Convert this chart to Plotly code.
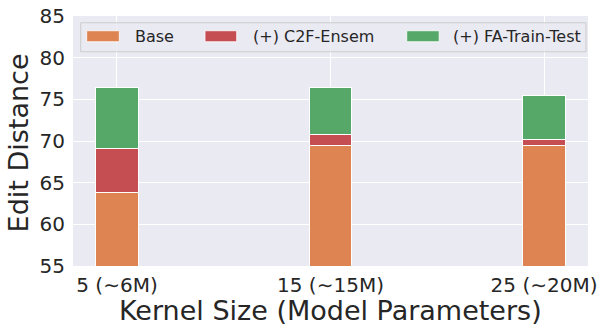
import plotly.graph_objects as go

categories = ["5 (\u223c6M)", "15 (\u223c15M)", "25 (\u223c20M)"]
base = [63.8, 69.5, 69.5]
c2f_gain = [5.3, 1.3, 0.7]
fa_gain = [7.3, 5.6, 5.3]
series_names = ["Base", "(+) C2F-Ensem", "(+) FA-Train-Test"]
colors = ["#DD8452", "#C44E52", "#55A868"]
y_ticks = [55, 60, 65, 70, 75, 80, 85]

FONT = "DejaVu Sans"
TXT = "#262626"

fig = go.Figure()
for name, vals, col in zip(series_names, [base, c2f_gain, fa_gain], colors):
    fig.add_trace(go.Bar(
        x=categories, y=vals, name=name, width=0.2,
        marker=dict(color=col, line=dict(color="white", width=1)),
        showlegend=False,
    ))

fig.update_layout(
    barmode="stack",
    width=601, height=325,
    margin=dict(l=73, r=13, t=16, b=59),
    paper_bgcolor="white",
    plot_bgcolor="#EAEAF2",
    font=dict(family=FONT, color=TXT),
    xaxis=dict(
        type="category", range=[-0.206, 2.206], automargin=False,
        showgrid=True, gridcolor="white", gridwidth=1.2,
        zeroline=False, showline=False,
        tickfont=dict(size=20, color=TXT, family=FONT),
        ticks="outside", ticklen=1, tickcolor="rgba(0,0,0,0)",
    ),
    yaxis=dict(
        range=[55, 85], tickvals=y_ticks, automargin=False,
        showgrid=True, gridcolor="white", gridwidth=1.2,
        zeroline=False, showline=False,
        tickfont=dict(size=20, color=TXT, family=FONT),
        ticks="outside", ticklen=3, tickcolor="rgba(0,0,0,0)",
    ),
)

# axis titles
fig.add_annotation(text="Kernel Size (Model Parameters)", xref="paper", yref="paper",
                   x=0.5, y=-0.176, xanchor="center", yanchor="middle", showarrow=False,
                   borderpad=0, font=dict(size=27, color=TXT, family=FONT))
fig.add_annotation(text="Edit Distance", xref="paper", yref="paper",
                   x=-0.106, y=0.492, xanchor="center", yanchor="middle", showarrow=False,
                   textangle=-90, font=dict(size=27, color=TXT, family=FONT))

# legend (custom, matplotlib-style)
fig.add_shape(type="rect", xref="paper", yref="paper", x0=0.015, x1=0.996, y0=0.857, y1=0.973,
              line=dict(color="#CCCCCC", width=1), fillcolor="rgba(234,234,242,0.8)", layer="above")
patch_x = [(0.0266, 0.0899), (0.2563, 0.3179), (0.648, 0.711)]
text_x = [0.1171, 0.3456, 0.734]
for (a, b), tx, name, col in zip(patch_x, text_x, series_names, colors):
    fig.add_shape(type="rect", xref="paper", yref="paper", x0=a, x1=b, y0=0.897, y1=0.941,
                  line=dict(color="white", width=0.8), fillcolor=col, layer="above")
    fig.add_annotation(text=name, xref="paper", yref="paper", x=tx, y=0.919,
                       xanchor="left", yanchor="middle", showarrow=False,
                       font=dict(size=16, color=TXT, family=FONT))

fig.write_html("out.html", config={"displayModeBar": False},
               post_script="document.body.style.margin='0';")
